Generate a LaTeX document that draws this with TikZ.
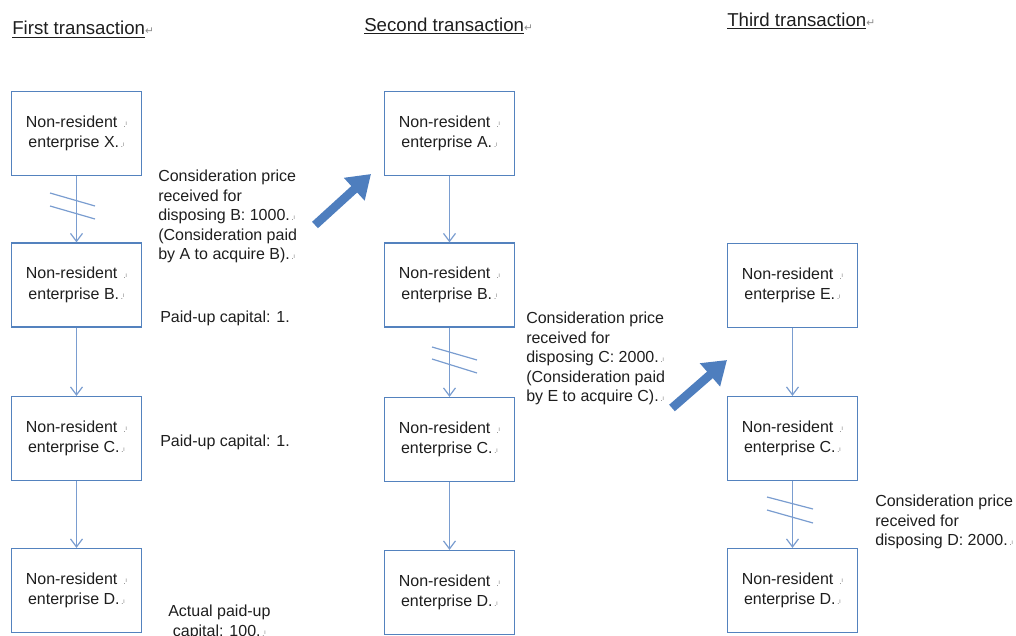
\documentclass[tikz,border=0pt]{standalone}
\usepackage{fontspec}
\setmainfont{Liberation Sans}
\newfontfamily\symfont{DejaVu Sans}
\usetikzlibrary{arrows.meta}

\definecolor{boxblue}{RGB}{84,130,190}
\definecolor{linkblue}{RGB}{122,157,208}
\definecolor{bigblue}{RGB}{78,126,190}
\definecolor{markgray}{RGB}{140,140,140}
\definecolor{txt}{RGB}{30,30,30}

% little paragraph marks as printed in the picture
\newcommand{\parmk}{{\color{markgray}\fontsize{7}{7}\selectfont\,.\kern-0.5pt\raisebox{0.3ex}{\fontsize{5}{5}\selectfont ı}}}
\newcommand{\retmk}{{\color{markgray}\symfont\fontsize{8}{8}\selectfont ↵}}

\begin{document}
\begin{tikzpicture}[x=0.75pt,y=0.75pt,yscale=-1,xscale=1,
  entbox/.style={draw=boxblue,line width=0.95pt,minimum width=98pt,minimum height=63pt,
    inner sep=0pt,align=center,text=txt,font=\fontsize{12}{15.5}\selectfont},
  link/.style={draw=linkblue,line width=0.9pt,-{Straight Barb[length=6pt,width=9pt]}},
  cut/.style={draw=linkblue,line width=0.9pt},
  bigarrow/.style={draw=bigblue,line width=6.5pt,-{Triangle[length=17pt,width=22pt]}},
  note/.style={anchor=north west,inner sep=0pt,align=left,text=txt,font=\fontsize{12}{14.6}\selectfont},
  heading/.style={anchor=base west,inner sep=0pt,text=txt,font=\fontsize{14}{16}\selectfont}]
\useasboundingbox (0,0) rectangle (1016,635);

% Headings
\node (hd1) at (12,35) [heading] {\underline{First transaction}\retmk};
\node (hd2) at (364,31.5) [heading] {\underline{Second transaction}\retmk};
\node (hd3) at (727,26.5) [heading] {\underline{Third transaction}\retmk};

%First transaction
\node (x1) at (76.5,133.5) [entbox] {Non-resident \parmk\\enterprise X.\parmk};
\node (b1) at (76.5,285) [entbox] {Non-resident \parmk\\enterprise B.\parmk};
\node (c1) at (76.5,438.5) [entbox] {Non-resident \parmk\\enterprise C.\parmk};
\node (d1) at (76.5,590.5) [entbox] {Non-resident \parmk\\enterprise D.\parmk};

\draw [link] (x1) -- (b1);
\draw [link] (b1) -- (c1);
\draw [link] (c1) -- (d1);
\draw [cut] (50,193) -- (95,206);
\draw [cut] (50,206) -- (95,219);

\node (n1) at (158,170) [note] {Consideration price\\received for\\disposing B: 1000.\parmk\\(Consideration paid\\by A to acquire B).\parmk};
\node (p1) at (160,311) [note] {Paid-up capital: 1.};
\node (p2) at (160,435) [note] {Paid-up capital: 1.};
\node (p3) at (168,605) [note,align=center] {Actual paid-up\\capital: 100.\parmk};

%Second transaction
\node (a2) at (449.5,133.5) [entbox] {Non-resident \parmk\\enterprise A.\parmk};
\node (b2) at (449.5,285) [entbox] {Non-resident \parmk\\enterprise B.\parmk};
\node (c2) at (449.5,439.5) [entbox] {Non-resident \parmk\\enterprise C.\parmk};
\node (d2) at (449.5,592.5) [entbox] {Non-resident \parmk\\enterprise D.\parmk};

\draw [link] (a2) -- (b2);
\draw [link] (b2) -- (c2);
\draw [link] (c2) -- (d2);
\draw [cut] (432,347) -- (477,360);
\draw [cut] (432,359) -- (477,373);

\node (n2) at (526,312) [note] {Consideration price\\received for\\disposing C: 2000.\parmk\\(Consideration paid\\by E to acquire C).\parmk};

%Third transaction
\node (e3) at (792.5,285.5) [entbox] {Non-resident \parmk\\enterprise E.\parmk};
\node (c3) at (792.5,438.5) [entbox] {Non-resident \parmk\\enterprise C.\parmk};
\node (d3) at (792.5,590.5) [entbox] {Non-resident \parmk\\enterprise D.\parmk};

\draw [link] (e3) -- (c3);
\draw [link] (c3) -- (d3);
\draw [cut] (767,497) -- (813,509);
\draw [cut] (767,510) -- (813,523);

\node (n3) at (875,495) [note] {Consideration price\\received for\\disposing D: 2000.\parmk};

% Big arrows between transactions
\coordinate (t1) at (315,225);
\coordinate (h1) at (371,174);
\coordinate (t2) at (672,408);
\coordinate (h2) at (727,360);
\draw [bigarrow] (t1) -- (h1);
\draw [bigarrow] (t2) -- (h2);

\end{tikzpicture}
\end{document}
